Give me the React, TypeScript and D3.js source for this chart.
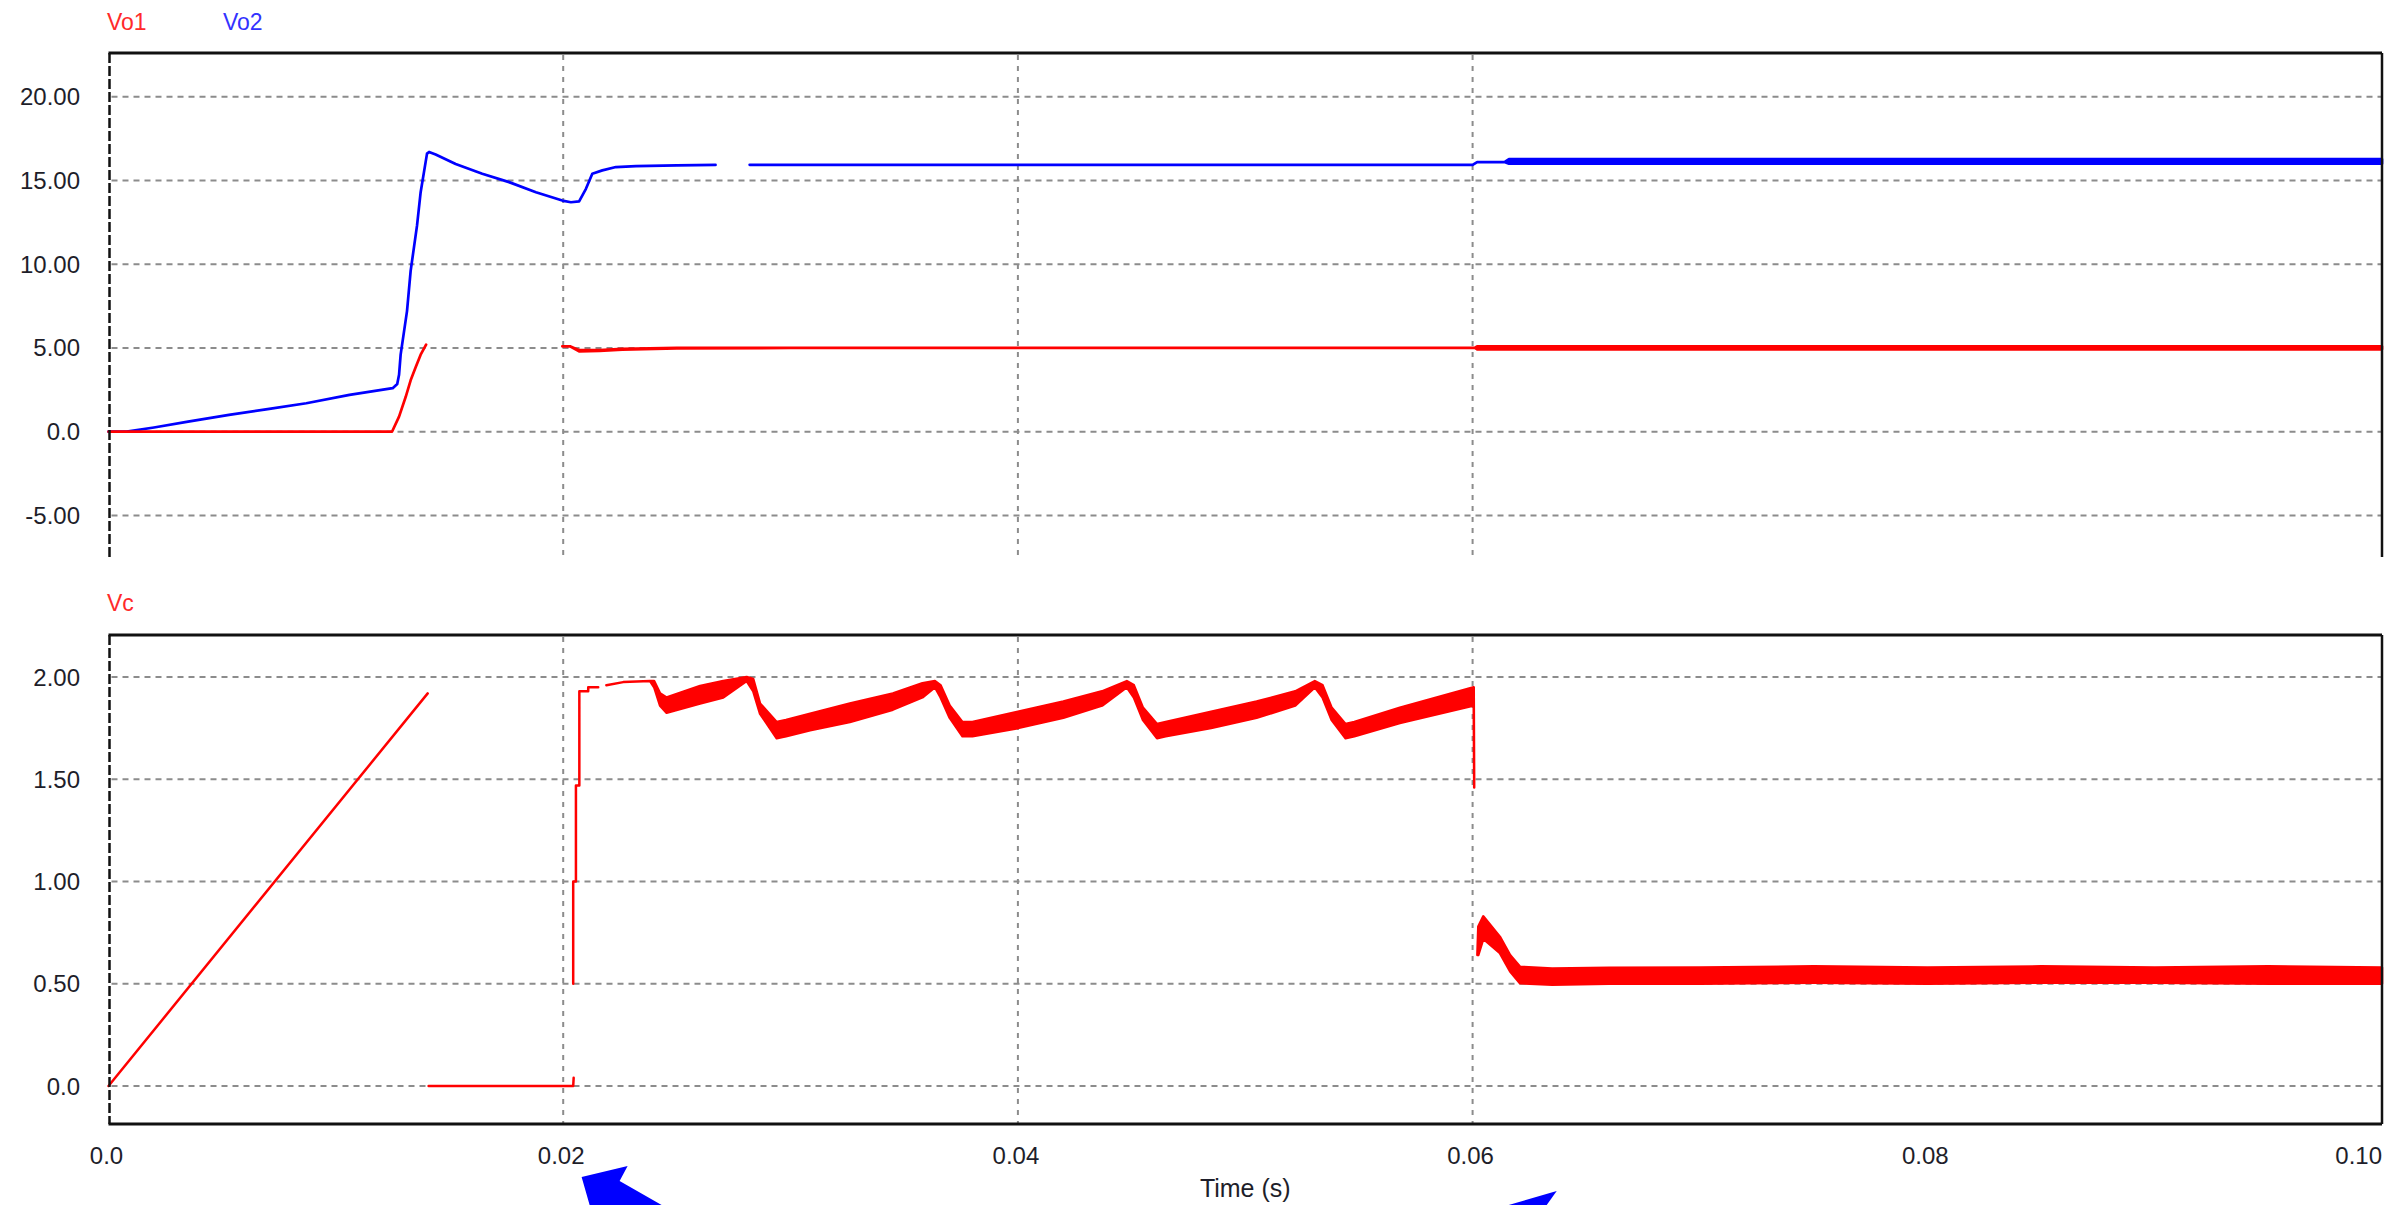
import React, { useEffect } from "react";
import * as d3 from "d3";

// ---------- data ----------
const xTickValues = [0, 0.02, 0.04, 0.06, 0.08, 0.1];
const xTickLabels = ["0.0", "0.02", "0.04", "0.06", "0.08", "0.10"];
const xGridValues = [0.02, 0.04, 0.06];

const topTickValues = [20, 15, 10, 5, 0, -5];
const topTickLabels = ["20.00", "15.00", "10.00", "5.00", "0.0", "-5.00"];
const botTickValues = [2, 1.5, 1, 0.5, 0];
const botTickLabels = ["2.00", "1.50", "1.00", "0.50", "0.0"];

// Vo1 (top panel, red): time, upper envelope, lower envelope
const vo1T = [0, 0.01247, 0.01278, 0.01307, 0.01329, 0.01351, 0.01373, 0.01397, NaN, 0.01996, 0.0203, 0.0207, 0.0216, 0.0226, 0.025, 0.03, 0.0601, 0.0602, 0.1];
const vo1Hi = [0, 0, 0.9, 2.07, 3.07, 3.85, 4.6, 5.2, NaN, 5.1, 5.1, 4.87, 4.87, 4.95, 5.0, 5.0, 5.0, 5.1, 5.1];
const vo1Lo = [0, 0, 0.9, 2.07, 3.07, 3.85, 4.6, 5.2, NaN, 5.1, 5.1, 4.8, 4.82, 4.9, 4.97, 5.0, 5.0, 4.92, 4.92];

// Vo2 (top panel, blue)
const vo2T = [0, 0.0008, 0.002, 0.0035, 0.0053, 0.007, 0.0087, 0.0106, 0.0125, 0.0127, 0.01278, 0.01285, 0.01313, 0.01329, 0.01357, 0.01373, 0.01401, 0.0141, 0.01439, 0.01527, 0.01644, 0.01762, 0.0188, 0.01996, 0.02034, 0.0207, 0.021, 0.02128, 0.02172, 0.02232, 0.0232, 0.025, 0.0267, NaN, 0.0282, 0.06, 0.0602, 0.0614, 0.0616, 0.1];
const vo2Hi = [0, 0, 0.25, 0.6, 1.0, 1.35, 1.7, 2.2, 2.6, 2.85, 3.4, 4.6, 7.2, 9.6, 12.3, 14.3, 16.6, 16.7, 16.55, 15.98, 15.4, 14.9, 14.3, 13.8, 13.7, 13.75, 14.5, 15.4, 15.6, 15.8, 15.85, 15.9, 15.93, NaN, 15.93, 15.93, 16.1, 16.1, 16.27, 16.27];
const vo2Lo = [0, 0, 0.25, 0.6, 1.0, 1.35, 1.7, 2.2, 2.6, 2.85, 3.4, 4.6, 7.2, 9.6, 12.3, 14.3, 16.6, 16.7, 16.55, 15.98, 15.4, 14.9, 14.3, 13.8, 13.7, 13.75, 14.5, 15.4, 15.6, 15.8, 15.85, 15.9, 15.93, NaN, 15.93, 15.93, 16.1, 16.1, 16.0, 16.0];

// Vc (bottom panel, red)
const vcT = [
  0, 0.01404, NaN,
  0.01408, 0.02044, 0.02046, NaN,
  0.02044, 0.02044, 0.02056, 0.02056, 0.02071, 0.02071, 0.0211, 0.0211, 0.02154, NaN,
  0.0219, 0.02264, 0.02382, 0.024, 0.02426, 0.02455, 0.02602, 0.02704, 0.02807, 0.02836, 0.02866, 0.02939, 0.0298, 0.03086, 0.03261, 0.0345, 0.0358, 0.03635,
  0.0366, 0.037, 0.03756, 0.038, 0.04, 0.042, 0.0437, 0.04479,
  0.0451, 0.0455, 0.04612, 0.0465, 0.0485, 0.0505, 0.0522, 0.05306,
  0.0534, 0.0538, 0.05441, 0.0548, 0.0568, 0.06005, 0.06007, NaN,
  0.06021, 0.06025, 0.06047, 0.0612, 0.06165, 0.06209, 0.0635, 0.066, 0.07, 0.075, 0.08, 0.085, 0.09, 0.095, 0.1,
];
const vcHi = [
  0, 1.92, NaN,
  0, 0, 0.04, NaN,
  0.5, 1.0, 1.0, 1.47, 1.47, 1.93, 1.93, 1.95, 1.95, NaN,
  1.96, 1.975, 1.98, 1.98, 1.92, 1.9, 1.956, 1.98, 2.0, 1.99, 1.87, 1.78, 1.79, 1.82, 1.87, 1.92, 1.97, 1.98,
  1.96, 1.86, 1.78, 1.78, 1.83, 1.88, 1.93, 1.98,
  1.96, 1.85, 1.77, 1.78, 1.83, 1.88, 1.93, 1.98,
  1.96, 1.85, 1.77, 1.78, 1.85, 1.95, 1.46, NaN,
  0.64, 0.78, 0.83, 0.73, 0.64, 0.583, 0.575, 0.578, 0.58, 0.585, 0.58, 0.585, 0.58, 0.585, 0.58,
];
const vcLo = [
  0, 1.92, NaN,
  0, 0, 0.04, NaN,
  0.5, 1.0, 1.0, 1.47, 1.47, 1.93, 1.93, 1.95, 1.95, NaN,
  1.96, 1.975, 1.98, 1.95, 1.86, 1.825, 1.87, 1.9, 1.98, 1.93, 1.82, 1.7, 1.71, 1.74, 1.78, 1.84, 1.9, 1.95,
  1.9, 1.8, 1.71, 1.71, 1.75, 1.8, 1.86, 1.95,
  1.9, 1.79, 1.7, 1.71, 1.75, 1.8, 1.86, 1.95,
  1.9, 1.79, 1.7, 1.71, 1.775, 1.86, 1.46, NaN,
  0.64, 0.64, 0.72, 0.65, 0.56, 0.502, 0.495, 0.5, 0.5, 0.505, 0.5, 0.505, 0.505, 0.5, 0.5,
];

// annotation arrows (time of tip)
const arrowTimes = [0.02081, 0.0637];

// ---------- layout ----------
const W = 2403;
const H = 1205;
const X0 = 108.5;
const X1 = 2382;
const TOP = { y0: 53, y1: 557 };
const BOT = { y0: 635, y1: 1124 };
const FONT = "'Liberation Sans', Arial, sans-serif";

type Pt = { t: number; hi: number; lo: number };
const zipSeries = (t: number[], hi: number[], lo: number[]): Pt[] =>
  t.map((v, i) => ({ t: v, hi: hi[i], lo: lo[i] }));

export default function App() {
  useEffect(() => {
    document.body.style.margin = "0";
  }, []);

  const x = d3.scaleLinear().domain([0, 0.1]).range([X0, X1]);
  const yTop = d3.scaleLinear().domain([0, 20]).range([431.7, 96.7]);
  const yBot = d3.scaleLinear().domain([0, 2]).range([1086, 677]);

  const band = (y: d3.ScaleLinear<number, number>) =>
    d3
      .area<Pt>()
      .defined((d) => !isNaN(d.t))
      .x((d) => x(d.t))
      .y0((d) => y(d.lo))
      .y1((d) => y(d.hi));

  const vo1 = band(yTop)(zipSeries(vo1T, vo1Hi, vo1Lo)) || "";
  const vo2 = band(yTop)(zipSeries(vo2T, vo2Hi, vo2Lo)) || "";
  const vc = band(yBot)(zipSeries(vcT, vcHi, vcLo)) || "";

  const gridColor = "#8c8c8c";
  const tickColor = "#1e1e2a";

  const panelFrame = (p: { y0: number; y1: number }, withBottom: boolean) => (
    <g>
      <line x1={X0} x2={X1} y1={p.y0} y2={p.y0} stroke="#111" strokeWidth={3} />
      <line x1={X1} x2={X1} y1={p.y0} y2={p.y1} stroke="#111" strokeWidth={2.5} />
      {withBottom && (
        <line x1={X0} x2={X1} y1={p.y1} y2={p.y1} stroke="#111" strokeWidth={3} />
      )}
      <line
        x1={X0 + 1}
        x2={X0 + 1}
        y1={p.y0}
        y2={p.y1}
        stroke="#111"
        strokeWidth={2.5}
        strokeDasharray="10,3"
      />
    </g>
  );

  const vGrid = (p: { y0: number; y1: number }) =>
    xGridValues.map((v, i) => (
      <line
        key={"vg" + i}
        x1={x(v)}
        x2={x(v)}
        y1={p.y0 + 2}
        y2={p.y1}
        stroke={gridColor}
        strokeWidth={2}
        strokeDasharray="5,6"
      />
    ));

  return (
    <svg
      width={W}
      height={H}
      viewBox={`0 0 ${W} ${H}`}
      style={{ display: "block", position: "absolute", left: 0, top: 0, background: "#fff" }}
    >
      <rect x={0} y={0} width={W} height={H} fill="#fff" />

      {/* legends */}
      <text x={107} y={30} fontFamily={FONT} fontSize={23} fill="#ff2a2a">Vo1</text>
      <text x={223} y={30} fontFamily={FONT} fontSize={23} fill="#3333ff">Vo2</text>
      <text x={107} y={611} fontFamily={FONT} fontSize={23} fill="#ff2a2a">Vc</text>

      {/* top panel grid */}
      {topTickValues.map((v, i) => (
        <g key={"tg" + i}>
          <line
            x1={X0 + 3}
            x2={X1}
            y1={yTop(v)}
            y2={yTop(v)}
            stroke={gridColor}
            strokeWidth={2}
            strokeDasharray="6,5"
          />
          <text
            x={80}
            y={yTop(v)}
            textAnchor="end"
            dominantBaseline="central"
            fontFamily={FONT}
            fontSize={24}
            fill={tickColor}
          >
            {topTickLabels[i]}
          </text>
        </g>
      ))}
      {vGrid(TOP)}

      {/* bottom panel grid */}
      {botTickValues.map((v, i) => (
        <g key={"bg" + i}>
          <line
            x1={X0 + 3}
            x2={X1}
            y1={yBot(v)}
            y2={yBot(v)}
            stroke={gridColor}
            strokeWidth={2}
            strokeDasharray="6,5"
          />
          <text
            x={80}
            y={yBot(v)}
            textAnchor="end"
            dominantBaseline="central"
            fontFamily={FONT}
            fontSize={24}
            fill={tickColor}
          >
            {botTickLabels[i]}
          </text>
        </g>
      ))}
      {vGrid(BOT)}

      {/* series */}
      <path d={vo2} fill="#0000ff" stroke="#0000ff" strokeWidth={2.7} strokeLinejoin="round" />
      <path d={vo1} fill="#ff0000" stroke="#ff0000" strokeWidth={2.7} strokeLinejoin="round" />
      <path d={vc} fill="#ff0000" stroke="#ff0000" strokeWidth={2.5} strokeLinejoin="round" />

      {/* frames */}
      {panelFrame(TOP, false)}
      {panelFrame(BOT, true)}

      {/* x tick labels */}
      {xTickValues.map((v, i) => (
        <text
          key={"xt" + i}
          x={i === xTickValues.length - 1 ? x(v) : x(v) - 2}
          y={1164}
          textAnchor={i === xTickValues.length - 1 ? "end" : "middle"}
          fontFamily={FONT}
          fontSize={24}
          fill={tickColor}
        >
          {xTickLabels[i]}
        </text>
      ))}
      <text
        x={(X0 + X1) / 2}
        y={1197}
        textAnchor="middle"
        fontFamily={FONT}
        fontSize={25}
        fill={tickColor}
      >
        Time (s)
      </text>

      {/* annotation arrows */}
      {(() => {
        const a1 = x(arrowTimes[0]);
        const a2 = x(arrowTimes[1]);
        const p1 = [
          [a1, 1177],
          [a1 + 46, 1166],
          [a1 + 38, 1181],
          [a1 + 80, 1205],
          [a1 + 8, 1205],
        ];
        const p2 = [
          [a2, 1191],
          [a2 - 10, 1205],
          [a2 - 48, 1205],
        ];
        return (
          <g fill="#0000ff">
            <polygon points={p1.map((p) => p.join(",")).join(" ")} />
            <polygon points={p2.map((p) => p.join(",")).join(" ")} />
          </g>
        );
      })()}
    </svg>
  );
}
